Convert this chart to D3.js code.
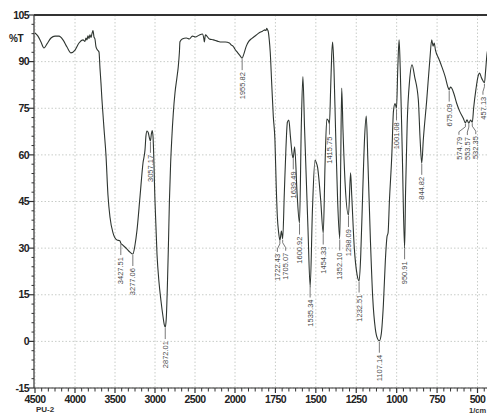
<!DOCTYPE html>
<html><head><meta charset="utf-8">
<script src="https://cdn.jsdelivr.net/npm/d3@7"></script>
<style>
html,body{margin:0;padding:0;background:#fff;overflow:hidden;}
svg{display:block;}
</style></head>
<body><svg id="c" width="487" height="414"></svg>
<script>
// ---- data ----
const wavenumber = [
4500,4463,4425,4388,4350,4300,4250,4200,4150,4100,4050,4000,3950,3900,3875,3863,3850,3838,3825,3813,3800,3788,3775,3763,3750,3738,3725,3700,3688,3675,3663,3650,3638,3613,3588,3563,3525,3475,3440,3427,3412,3350,3313,3277,3250,3225,3188,3150,3125,3113,3100,3085,3070,3057,3045,3035,3025,3000,2975,2950,2925,2900,2885,2872,2860,2845,2833,2820,2805,2791,2771,2750,2725,2709,2695,2688,2660,2608,2570,2533,2495,2445,2408,2390,2383,2370,2320,2270,2220,2170,2120,2070,2045,2025,2000,
1985,1970,1956,1945,1930,1915,1895,1870,1850,1830,1815,1808,1804,1798,1794,1788,1782,1773,1763,1753,1745,1738,1730,1722,1713,1705,1695,1685,1676,1667,1657,1646,1640,1631,1616,1601,1590,1580,1570,1549,1535,1521,1505,1496,1490,1470,1454,1443,1432,1422,1416,1408,1402,1396,1388,1378,1365,1352,1346,1340,1332,1318,1298,1285,1278,1262,1245,1232,1222,1210,1198,1188,1178,1162,1148,1132,1118,1107,1095,1082,1070,1060,1053,1045,1030,1020,1010,1001,993,985,978,965,951,945,935,920,905,889,866,855,845,835,814,795,783,775,768,760,740,721,700,680,675,668,660,645,629,610,588,575,565,554,543,532,524,510,497,487,477,468,457,450,442,430,410,400];
const transmittance = [
99.2,98.2,96.3,94.4,95.7,97.6,98.2,98.2,97.0,94.7,92.8,93.7,96.0,97.0,96.5,97.6,97.0,98.3,97.4,98.6,97.8,99.0,100.0,98.0,97.2,94.8,94.0,93.1,88.0,83.0,77.7,73.0,68.6,60.0,47.1,40.0,34.9,32.6,32.4,31.6,31.2,29.7,28.7,28.1,31.0,35.8,46.4,57.4,61.6,66.1,67.7,67.2,65.5,64.5,66.8,67.8,66.0,45.0,28.0,19.0,13.0,8.0,5.5,4.6,7.0,18.0,30.0,45.0,57.0,64.8,73.5,80.0,85.0,88.4,93.0,96.4,97.3,97.6,97.3,98.2,97.9,98.6,98.9,97.5,96.3,98.6,97.3,97.0,96.6,96.3,96.3,96.0,95.3,95.0,94.0,
93.0,92.0,91.1,92.5,95.0,96.5,97.5,98.5,99.3,99.8,100.2,100.0,100.7,100.2,99.6,97.0,93.0,83.0,72.3,64.8,50.0,40.0,35.0,32.5,35.5,33.0,47.6,62.0,70.5,71.2,65.8,60.0,59.0,62.6,47.6,38.0,69.0,85.2,69.0,36.9,17.5,42.3,58.3,57.3,56.2,45.5,34.8,57.0,71.5,71.0,70.0,82.0,92.0,96.3,88.0,68.0,45.0,33.0,58.0,81.5,68.0,50.0,40.6,54.2,47.0,30.0,21.5,19.5,28.0,48.0,66.0,72.5,58.0,32.0,14.0,4.0,0.8,0.2,2.5,12.0,26.0,33.6,35.0,45.0,60.0,74.0,76.5,75.0,88.0,97.0,88.0,60.0,30.0,48.0,70.0,84.0,89.0,85.2,77.7,65.0,57.3,65.0,77.7,90.5,97.0,95.0,96.0,93.7,91.0,88.4,85.2,81.4,81.0,81.8,81.5,79.5,76.6,74.0,71.8,70.3,71.3,70.2,71.2,70.5,75.0,81.0,85.2,86.3,85.0,84.0,83.2,87.0,92.0,95.0,96.0,96.5];
const peakWavenumbers = [3427.51,3277.06,3057.17,2872.01,1955.82,1722.43,1705.07,1639.49,1600.92,1535.34,1454.33,1415.75,1352.10,1298.09,1232.51,1107.14,1001.08,950.91,844.82,675.09,574.79,553.57,532.35,457.13];
const xTickValues = [4500,4000,3500,3000,2500,2000,1750,1500,1250,1000,750,500];
const yTickValues = [105,90,75,60,45,30,15,0,-15];
const sampleName = "PU-2";
const xUnit = "1/cm";
const yUnit = "%T";

// ---- layout ----
const svg = d3.select("#c");
const x = d3.scaleLinear().domain([4500,2000,400]).range([35,235,235+1600*0.16167]);
const y = d3.scaleLinear().domain([-15,105]).range([388,15]);
const pLeft = 34, pRight = 494, pTop = 15, pBottom = 388;
const ink = "#2e3530";
const axisFont = "'Liberation Sans Narrow','Liberation Sans',Arial,sans-serif";

// grid
const grid = svg.append("g");
xTickValues.forEach(v => {
  grid.append("line").attr("x1",x(v)).attr("x2",x(v)).attr("y1",pTop).attr("y2",pBottom)
    .attr("stroke","#c8ccc8").attr("stroke-width",1).attr("stroke-dasharray","1.5,2");
});
yTickValues.forEach(v => {
  grid.append("line").attr("x1",pLeft).attr("x2",pRight).attr("y1",y(v)).attr("y2",y(v))
    .attr("stroke","#c8ccc8").attr("stroke-width",1).attr("stroke-dasharray","1.5,2");
});

// clip
svg.append("clipPath").attr("id","pc").append("rect")
  .attr("x",pLeft).attr("y",pTop-2).attr("width",pRight-pLeft).attr("height",pBottom-pTop+4);

// spectrum
const pts = wavenumber.map((w,i)=>[w,transmittance[i]]);
const line = d3.line().x(d=>x(d[0])).y(d=>y(d[1])).curve(d3.curveMonotoneX);
svg.append("path").datum(pts).attr("clip-path","url(#pc)")
  .attr("d", line).attr("fill","none").attr("stroke",ink).attr("stroke-width",1.1)
  .attr("stroke-linejoin","round");

// axes frame
svg.append("line").attr("x1",pLeft).attr("x2",487).attr("y1",pTop).attr("y2",pTop)
  .attr("stroke","#333").attr("stroke-width",2);
svg.append("line").attr("x1",pLeft).attr("x2",pLeft).attr("y1",pTop).attr("y2",pBottom)
  .attr("stroke","#333").attr("stroke-width",1.2);
svg.append("line").attr("x1",pLeft).attr("x2",487).attr("y1",pBottom).attr("y2",pBottom)
  .attr("stroke","#333").attr("stroke-width",1.2);

// x ticks (major + minor)
const xa = svg.append("g");
for (let i=0;i<xTickValues.length;i++){
  const v = xTickValues[i];
  xa.append("line").attr("x1",x(v)).attr("x2",x(v)).attr("y1",pBottom).attr("y2",pBottom+5)
    .attr("stroke","#333").attr("stroke-width",1.2);
  xa.append("text").attr("x",x(v)).attr("y",pBottom+15).attr("text-anchor","middle")
    .attr("font-family",axisFont).attr("font-weight","bold").attr("font-size",10.5)
    .attr("letter-spacing","-0.6").attr("fill","#222").text(v);
  const next = i < xTickValues.length-1 ? xTickValues[i+1] : 250;
  const n = 6;
  for (let k=1;k<n;k++){
    const mv = v + (next - v)*k/n;
    if (x(mv) > 487) break;
    xa.append("line").attr("x1",x(mv)).attr("x2",x(mv)).attr("y1",pBottom).attr("y2",pBottom+3.5)
      .attr("stroke","#333").attr("stroke-width",1);
  }
}
// y ticks
const ya = svg.append("g");
yTickValues.forEach((v,i)=>{
  ya.append("line").attr("x1",pLeft-5).attr("x2",pLeft).attr("y1",y(v)).attr("y2",y(v))
    .attr("stroke","#333").attr("stroke-width",1.2);
  ya.append("text").attr("x",pLeft-5).attr("y",y(v)).attr("dy","0.35em").attr("text-anchor","end")
    .attr("font-family",axisFont).attr("font-weight","bold").attr("font-size",10.5)
    .attr("letter-spacing","-0.6").attr("fill","#222").text(v);
  if (i < yTickValues.length-1){
    for (let k=1;k<5;k++){
      const mv = v - 15*k/5;
      ya.append("line").attr("x1",pLeft-2.5).attr("x2",pLeft).attr("y1",y(mv)).attr("y2",y(mv))
        .attr("stroke","#333").attr("stroke-width",1);
    }
  }
});
svg.append("text").attr("x",9).attr("y",42).attr("font-family",axisFont).attr("font-weight","bold")
  .attr("font-size",10).attr("letter-spacing","-0.5").attr("fill","#222").text(yUnit);
svg.append("text").attr("x",36).attr("y",412).attr("font-family",axisFont).attr("font-weight","bold")
  .attr("font-size",8).attr("fill","#333").text(sampleName);
svg.append("text").attr("x",469).attr("y",413).attr("font-family",axisFont).attr("font-weight","bold")
  .attr("font-size",7.5).attr("fill","#333").text(xUnit);

// peak labels
function tAt(w){
  for (let i=0;i<wavenumber.length-1;i++){
    const a = wavenumber[i], b = wavenumber[i+1];
    if (w <= a && w >= b){
      const t = (a-w)/(a-b);
      return transmittance[i] + (transmittance[i+1]-transmittance[i])*t;
    }
  }
  return transmittance[transmittance.length-1];
}
const labelShift = {1722.43:-2.5, 1705.07:3, 574.79:-6.5, 553.57:-1.5, 532.35:3.5, 457.13:-1.5};
const pl = svg.append("g");
peakWavenumbers.forEach(w=>{
  const px = x(w), py = y(tAt(w)) + 1;
  const dx = labelShift[w] || 0;
  const lx = px + dx;
  const path = dx === 0
    ? `M${px},${py}V${py+11}`
    : `M${px},${py}V${py+3}L${lx},${py+8}V${py+11}`;
  pl.append("path").attr("d",path).attr("fill","none").attr("stroke","#555").attr("stroke-width",0.8);
  pl.append("text").attr("transform",`translate(${lx},${py+13}) rotate(-90)`)
    .attr("text-anchor","end").attr("dy","0.35em")
    .attr("font-family","'Liberation Sans',Arial,sans-serif").attr("font-size",7.5)
    .attr("fill","#4a4a4a").text(w.toFixed(2));
});
</script>
</body></html>
